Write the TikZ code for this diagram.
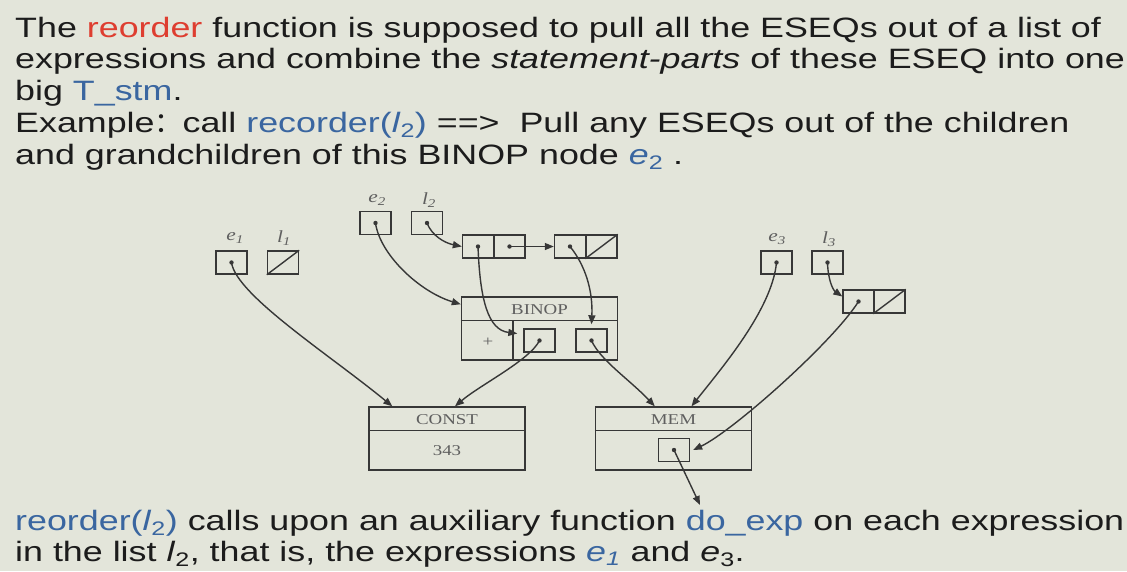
\documentclass[tikz,border=0pt]{standalone}
\usepackage{fontspec}
\setmainfont{Liberation Sans}[FakeStretch=1.28]
\newfontfamily\serifd{Liberation Serif}[FakeStretch=1.26]
\newfontfamily\cjk{Noto Sans CJK SC}
\usetikzlibrary{arrows.meta}
\definecolor{bg}{RGB}{227,229,218}
\definecolor{txtc}{RGB}{28,28,28}
\definecolor{redc}{RGB}{222,62,48}
\definecolor{bluec}{RGB}{58,102,160}
\definecolor{linec}{RGB}{55,55,55}
\definecolor{labc}{RGB}{95,95,95}
\tikzset{
  txt/.style={anchor=base west, inner sep=0pt, text=txtc, font=\fontsize{28}{32}\selectfont},
  dl/.style={draw=linec, line width=1.4pt},
  ptr/.style={dl, minimum width=31pt, minimum height=23pt, inner sep=0pt},
  bigbox/.style={dl, minimum width=156pt, minimum height=63pt, inner sep=0pt},
  dlab/.style={inner sep=0pt, text=labc, font=\serifd\fontsize{15}{15}\selectfont},
  vlab/.style={inner sep=0pt, text=labc, font=\serifd\itshape\fontsize{17}{17}\selectfont},
  arr/.style={dl, -{Triangle[length=9pt,width=7pt]}},
  dot/.style={fill=linec, draw=none}
}
\newcommand{\pdot}[1]{\fill[dot] (#1.center) circle (2.2pt);}
\begin{document}
\begin{tikzpicture}[x=1pt,y=-1pt]
\useasboundingbox[fill=bg] (0,0) rectangle (1127,571);
% ---- top text ----
\node[txt] (t1) at (15,37) {The \textcolor{redc}{reorder} function is supposed to pull all the ESEQs out of a list of};
\node[txt] (t2) at (15,68) {expressions and combine the \textit{statement-parts} of these ESEQ into one};
\node[txt] (t3) at (15,100) {big \textcolor{bluec}{T\_stm}.};
\node[txt] (t4) at (15,132) {Example{\cjk ：}call \textcolor{bluec}{recorder(\textit{l}\textsubscript{2})} ==>\ \ Pull any ESEQs out of the children};
\node[txt] (t5) at (15,164) {and grandchildren of this BINOP node \textcolor{bluec}{\textit{e}\textsubscript{2}} .};
% ---- bottom text ----
\node[txt] (b1t) at (15,530) {\textcolor{bluec}{reorder(\textit{l}\textsubscript{2})} calls upon an auxiliary function \textcolor{bluec}{do\_exp} on each expression};
\node[txt] (b2t) at (15,561) {in the list \textit{l}\textsubscript{2}, that is, the expressions \textcolor{bluec}{\textit{e}\textsubscript{\textit{1}}} and \textit{e}\textsubscript{3}.};
% ---- pointer boxes ----
\node[ptr] (e1) at (231.5,262.5) {};
\node[ptr] (l1) at (283,262.5) {};
\node[ptr] (e2) at (375.5,223) {};
\node[ptr] (l2) at (427,223) {};
\node[ptr] (c2a) at (478,246.5) {};
\node[ptr] (c2b) at (509.5,246.5) {};
\node[ptr] (c2c) at (570,246.5) {};
\node[ptr] (c2d) at (601.5,246.5) {};
\node[ptr] (e3) at (776.5,262.5) {};
\node[ptr] (l3) at (827.5,262.5) {};
\node[ptr] (c3a) at (858.5,301.5) {};
\node[ptr] (c3b) at (889.5,301.5) {};
\draw[dl] (l1.south west) -- (l1.north east);
\draw[dl] (c2d.south west) -- (c2d.north east);
\draw[dl] (c3b.south west) -- (c3b.north east);
% labels
\node[vlab] (le1) at (235,238) {e\textsubscript{1}};
\node[vlab] (ll1) at (284,238) {l\textsubscript{1}};
\node[vlab] (le2) at (377,200) {e\textsubscript{2}};
\node[vlab] (ll2) at (429,200) {l\textsubscript{2}};
\node[vlab] (le3) at (777,239) {e\textsubscript{3}};
\node[vlab] (ll3) at (829,239) {l\textsubscript{3}};
% ---- BINOP ----
\node[bigbox] (binop) at (539.5,328.5) {};
\draw[dl] ([yshift=-24pt]binop.north west) -- ([yshift=-24pt]binop.north east);
\draw[dl] ([xshift=52pt,yshift=-24pt]binop.north west) -- ([xshift=52pt]binop.south west);
\node[dlab] (binoplab) at (539.5,310) {BINOP};
\node[dlab] (plus) at (488,342) {+};
\node[ptr] (bb1) at (539.5,340.5) {};
\node[ptr] (bb2) at (591.5,340.5) {};
% ---- CONST / MEM ----
\node[bigbox] (const) at (447,438.5) {};
\draw[dl] ([yshift=-24pt]const.north west) -- ([yshift=-24pt]const.north east);
\node[dlab] (constlab) at (447,420) {CONST};
\node[dlab] (constval) at (447,451) {343};
\node[bigbox] (mem) at (673.5,438.5) {};
\draw[dl] ([yshift=-24pt]mem.north west) -- ([yshift=-24pt]mem.north east);
\node[dlab] (memlab) at (673.5,420) {MEM};
\node[ptr] (m1) at (674,450) {};
\coordinate (mout) at (700,505);
% ---- dots ----
\pdot{e1}\pdot{e2}\pdot{l2}\pdot{c2a}\pdot{c2b}\pdot{c2c}
\pdot{e3}\pdot{l3}\pdot{c3a}\pdot{bb1}\pdot{bb2}\pdot{m1}
% ---- arrows ----
\draw[arr] (l2.center) .. controls (432,236) and (445,243) .. (c2a.west);
\draw[arr] (c2b.center) -- (c2c.west);
\draw[arr] (e2.center) .. controls (380,255) and (420,292) .. ([yshift=-8pt]binop.north west);
\draw[arr] (c2a.center) .. controls (480,300) and (488,330) .. ([xshift=-6pt,yshift=7pt]bb1.west);
\draw[arr] (c2c.center) .. controls (585,265) and (593,290) .. ([yshift=4pt]bb2.north);
\draw[arr] (e1.center) .. controls (236,295) and (330,355) .. ([xshift=24pt]const.north west);
\draw[arr] (bb1.center) .. controls (530,360) and (480,385) .. ([xshift=8pt]const.north);
\draw[arr] (bb2.center) .. controls (600,360) and (630,380) .. ([xshift=60pt]mem.north west);
\draw[arr] (e3.center) .. controls (772,310) and (720,370) .. ([xshift=18pt]mem.north);
\draw[arr] (c3a.center) .. controls (833,342) and (733,431) .. ([xshift=3pt]m1.east);
\draw[arr] (l3.center) .. controls (828,280) and (833,290) .. ([yshift=5pt]c3a.west);
\draw[arr] (m1.center) -- (mout);
\end{tikzpicture}
\end{document}
